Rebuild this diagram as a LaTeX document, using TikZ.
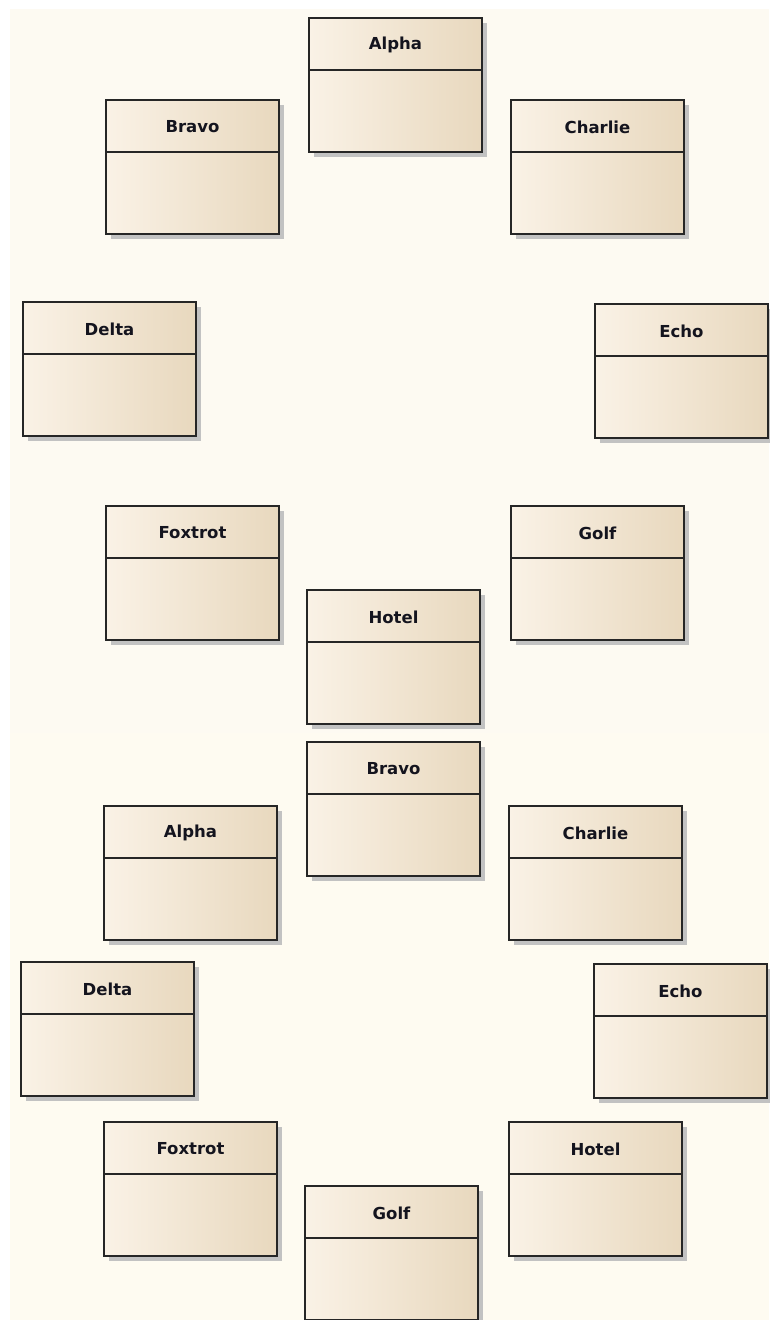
\documentclass[tikz,border=0pt]{standalone}
\usepackage{fontspec}
\setmainfont{DejaVu Sans}
\usetikzlibrary{shadows}
\definecolor{bgtop}{HTML}{FDFAF2}
\definecolor{bgbot}{HTML}{FEFBF1}
\definecolor{fillL}{HTML}{FAF2E6}
\definecolor{fillM}{HTML}{FAF2E6}
\definecolor{fillR}{HTML}{E8D8BE}
\definecolor{edge}{HTML}{262626}
\definecolor{shadowc}{HTML}{C2C2C2}
\definecolor{txt}{HTML}{14141E}
\tikzset{
  classbox/.style={draw=edge, line width=1.6pt, minimum width=173pt, minimum height=134pt,
    inner sep=0pt, outer sep=0pt, anchor=north west,
    left color=fillL, middle color=fillM, right color=fillR,
    general shadow={shadow xshift=5pt, shadow yshift=-5pt, fill=shadowc}},
  divider/.style={draw=edge, line width=1.6pt},
  classtitle/.style={font=\bfseries\fontsize{16.5}{19}\selectfont, text=txt, inner sep=0pt},
}
\newcommand\umlclass[4]{%
  \node[classbox] (#1) at (#2,-#3) {};
  \draw[divider] ([yshift=-52pt]#1.north west) -- ([yshift=-52pt]#1.north east);
  \node[classtitle] (#1-t) at ([yshift=-27pt]#1.north) {#4};
}
\begin{document}
\begin{tikzpicture}[x=1pt,y=1pt]
\useasboundingbox (0,0) rectangle (769,-1320);
\fill[bgtop] (10,-9) rectangle (769,-733);
\fill[bgbot] (10,-733) rectangle (769,-1320);
% upper diagram
\umlclass{a1}{309}{18}{Alpha}
\umlclass{b1}{106}{100}{Bravo}
\umlclass{c1}{511}{100}{Charlie}
\umlclass{d1}{23}{302}{Delta}
\umlclass{e1}{595}{304}{Echo}
\umlclass{f1}{106}{506}{Foxtrot}
\umlclass{g1}{511}{506}{Golf}
\umlclass{h1}{307}{590}{Hotel}
% lower diagram
\umlclass{b2}{307}{742}{Bravo}
\umlclass{a2}{104}{806}{Alpha}
\umlclass{c2}{509}{806}{Charlie}
\umlclass{d2}{21}{962}{Delta}
\umlclass{e2}{594}{964}{Echo}
\umlclass{f2}{104}{1122}{Foxtrot}
\umlclass{h2}{509}{1122}{Hotel}
\umlclass{g2}{305}{1186}{Golf}
\end{tikzpicture}
\end{document}
